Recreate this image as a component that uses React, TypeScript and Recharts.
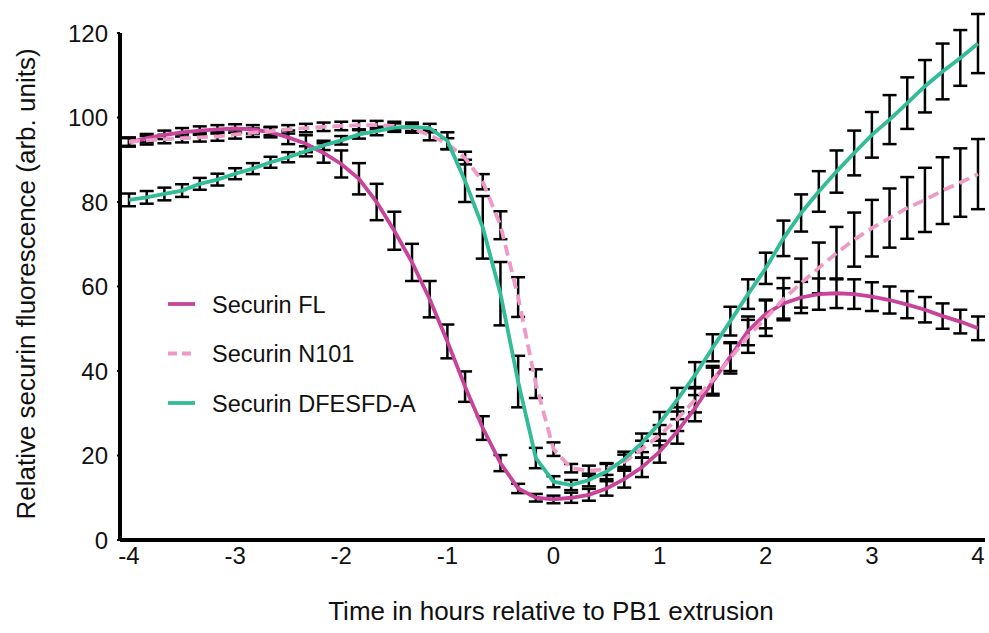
import React from 'react';
import { LineChart, Line, XAxis, YAxis, ErrorBar } from 'recharts';

// time points, minutes relative to PB1 extrusion (every 10 min)
const minutes = [
  -240, -230, -220, -210, -200, -190, -180, -170, -160, -150,
  -140, -130, -120, -110, -100, -90, -80, -70, -60, -50,
  -40, -30, -20, -10, 0, 10, 20, 30, 40, 50,
  60, 70, 80, 90, 100, 110, 120, 130, 140, 150,
  160, 170, 180, 190, 200, 210, 220, 230, 240,
];

const flMean = [
  94.1, 95.1, 95.9, 96.5, 96.9, 97.2, 97.4, 97.2, 96.5, 95.3,
  93.8, 91.6, 89.0, 85.5, 80.0, 73.2, 65.7, 57.0, 47.0, 36.3,
  26.5, 18.2, 12.2, 10.0, 9.6, 10.0, 10.7, 12.2, 14.4, 17.2,
  20.9, 25.7, 31.2, 37.5, 43.4, 49.5, 53.5, 56.0, 57.4, 58.2,
  58.4, 58.2, 57.6, 56.8, 55.7, 54.5, 53.0, 51.7, 50.1,
];
const flErr = [
  1.0, 1.0, 1.0, 1.0, 1.0, 1.0, 1.0, 1.0, 1.2, 1.6,
  2.0, 2.3, 3.2, 3.7, 4.3, 4.5, 4.4, 4.3, 4.0, 3.6,
  2.8, 1.9, 1.1, 0.9, 0.9, 1.2, 1.4, 1.7, 2.0, 2.3,
  2.6, 2.9, 3.1, 3.3, 3.4, 3.4, 3.4, 3.6, 3.7, 3.7,
  3.5, 3.5, 3.4, 3.2, 3.2, 3.0, 3.0, 2.8, 2.8,
];

const n101Mean = [
  94.3, 94.6, 94.9, 95.1, 95.3, 95.5, 96.0, 96.4, 96.8, 97.2,
  97.5, 97.8, 98.0, 98.2, 98.2, 98.0, 97.4, 95.8, 93.8, 90.4,
  84.8, 74.5, 57.5, 37.0, 21.5, 17.0, 16.4, 16.8, 18.5, 21.5,
  24.8, 28.6, 33.2, 37.9, 43.0, 48.2, 52.5, 57.0, 60.8, 64.4,
  67.9, 71.1, 73.8, 76.2, 78.6, 80.5, 82.7, 84.6, 86.6,
];
const n101Err = [
  1.0, 1.0, 1.0, 1.0, 1.0, 1.0, 1.0, 1.0, 1.0, 1.0,
  1.0, 1.0, 1.0, 1.0, 1.0, 1.0, 1.0, 1.2, 1.3, 1.5,
  1.8, 3.3, 4.7, 3.4, 1.6, 1.0, 1.2, 1.4, 1.7, 2.0,
  2.4, 2.8, 3.0, 3.3, 3.6, 3.9, 4.2, 5.0, 5.8, 6.0,
  6.2, 6.4, 6.7, 7.0, 7.3, 7.6, 7.9, 8.1, 8.3,
];

const dfeMean = [
  80.5, 81.1, 81.9, 82.7, 84.3, 85.3, 86.7, 87.9, 89.4, 90.6,
  92.0, 93.4, 94.6, 96.0, 96.8, 97.6, 97.8, 97.5, 94.5, 85.0,
  74.0, 58.3, 37.5, 19.4, 13.8, 13.0, 14.2, 16.2, 19.1, 23.0,
  27.7, 33.2, 39.0, 45.5, 51.8, 58.2, 64.3, 71.4, 77.4, 82.5,
  87.2, 91.6, 95.9, 99.5, 103.4, 107.4, 110.9, 114.1, 117.5,
];
const dfeErr = [
  1.5, 1.5, 1.5, 1.5, 1.4, 1.4, 1.3, 1.3, 1.3, 1.2,
  1.2, 1.1, 1.0, 1.0, 1.0, 1.0, 1.0, 1.0, 2.0, 5.0,
  7.4, 7.5, 6.1, 2.4, 1.3, 1.2, 1.5, 1.8, 1.8, 2.2,
  2.6, 2.8, 3.1, 3.2, 3.4, 3.5, 3.7, 4.2, 4.4, 4.8,
  5.0, 5.3, 5.4, 5.8, 6.1, 6.2, 6.6, 6.6, 7.0,
];

const xTicks = [-4, -3, -2, -1, 0, 1, 2, 3, 4];
const yTicks = [0, 20, 40, 60, 80, 100, 120];

const FONT = "'Liberation Sans', Arial, Helvetica, sans-serif";
const FL_COLOR = '#c8449b';
const N101_COLOR = '#ef9ac6';
const DFE_COLOR = '#33bc98';

const series = [
  { name: 'Securin FL', key: 'fl', color: FL_COLOR, dash: undefined },
  { name: 'Securin N101', key: 'n101', color: N101_COLOR, dash: '11 6' },
  { name: 'Securin DFESFD-A', key: 'dfe', color: DFE_COLOR, dash: undefined },
];

const data = minutes.map((m, i) => ({
  t: m / 60,
  fl: flMean[i],
  flErr: flErr[i],
  n101: n101Mean[i],
  n101Err: n101Err[i],
  dfe: dfeMean[i],
  dfeErr: dfeErr[i],
}));

export default function App() {
  const tickStyle = { fill: '#111', fontSize: 24, fontFamily: FONT };
  return (
    <div style={{ position: 'absolute', left: 0, top: 0, width: 989, height: 633, background: '#fff' }}>
      <LineChart width={989} height={633} data={data} margin={{ top: 33, right: 4, bottom: 33, left: 60 }}>
        <XAxis
          type="number"
          dataKey="t"
          domain={[-4.085, 4.066]}
          ticks={xTicks}
          interval={0}
          allowDataOverflow
          height={60}
          axisLine={{ stroke: '#000', strokeWidth: 4 }}
          tickLine={false}
          tickMargin={1}
          tick={tickStyle}
        />
        <YAxis
          type="number"
          domain={[0, 120]}
          ticks={yTicks}
          interval={0}
          allowDataOverflow
          width={60}
          axisLine={{ stroke: '#000', strokeWidth: 4 }}
          tickLine={{ stroke: '#000', strokeWidth: 2 }}
          tickSize={3}
          tickMargin={9}
          tick={tickStyle}
        />
        {/* error bars first so the coloured lines sit on top */}
        {series.map((s) => (
          <Line key={s.key + '-err'} dataKey={s.key} stroke="none" dot={false} isAnimationActive={false}>
            <ErrorBar dataKey={s.key + 'Err'} width={7} strokeWidth={2.5} stroke="#000" direction="y" isAnimationActive={false} />
          </Line>
        ))}
        {series.map((s) => (
          <Line
            key={s.key}
            type="linear"
            dataKey={s.key}
            name={s.name}
            stroke={s.color}
            strokeWidth={3.8}
            strokeDasharray={s.dash}
            dot={false}
            isAnimationActive={false}
          />
        ))}
      </LineChart>
      <svg width={989} height={633} style={{ position: 'absolute', left: 0, top: 0, pointerEvents: 'none' }}>
        <text
          transform="translate(35,284) rotate(-90)"
          textAnchor="middle"
          fontSize={26}
          fontFamily={FONT}
          fill="#111"
        >
          Relative securin fluorescence (arb. units)
        </text>
        <text x={551} y={620} textAnchor="middle" fontSize={26} fontFamily={FONT} fill="#111">
          Time in hours relative to PB1 extrusion
        </text>
        {series.map((s, i) => (
          <g key={s.key} transform={`translate(0, ${304 + i * 49.5})`}>
            <line x1={168} x2={195} y1={0} y2={0} stroke={s.color} strokeWidth={3.8} strokeDasharray={s.dash ? '9 5' : undefined} />
            <text x={212} y={8.5} fontSize={23.5} fontFamily={FONT} fill="#111">
              {s.name}
            </text>
          </g>
        ))}
      </svg>
    </div>
  );
}
